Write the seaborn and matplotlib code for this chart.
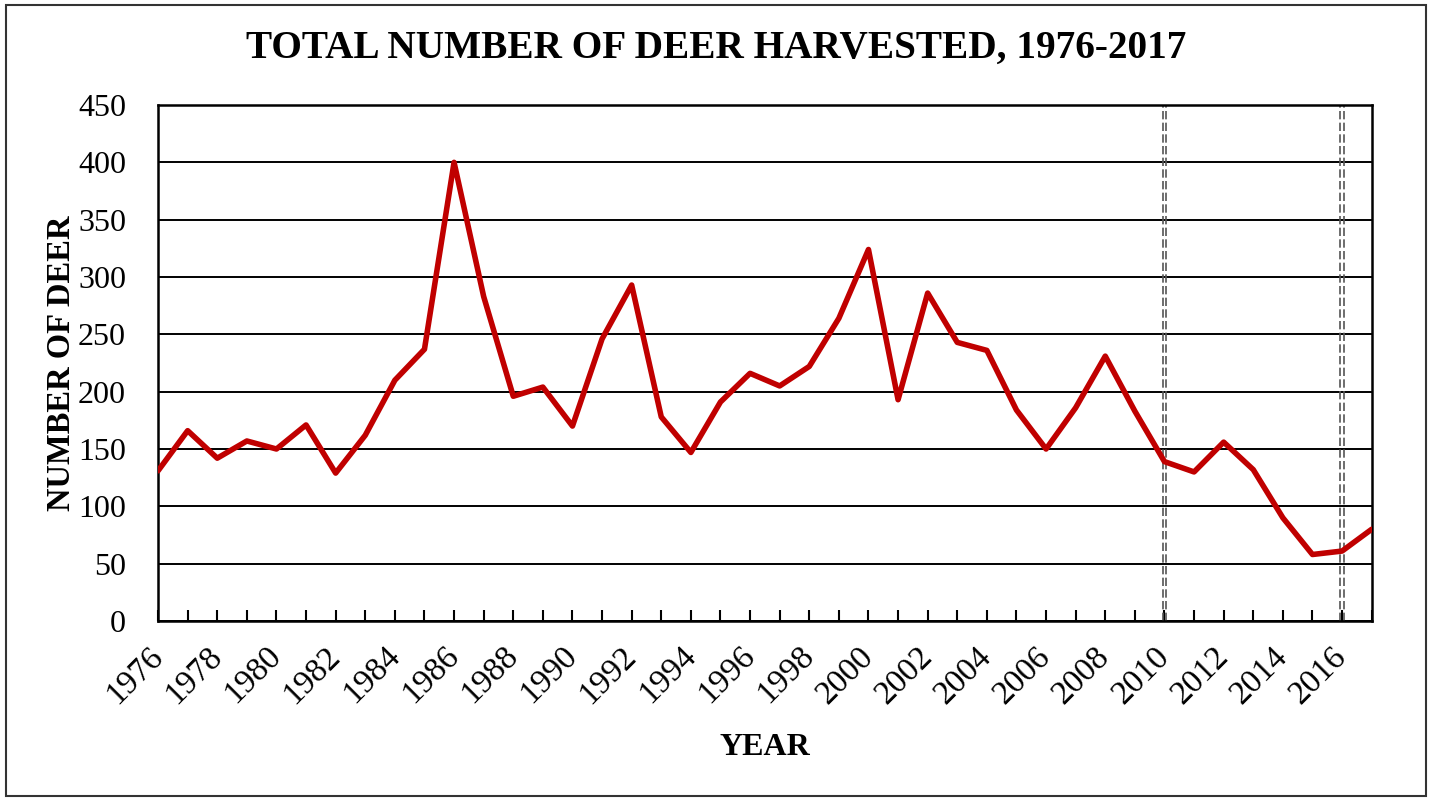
import matplotlib
matplotlib.use('Agg')
import matplotlib.pyplot as plt
import seaborn as sns
import pandas as pd
from matplotlib.patches import Rectangle

years = list(range(1976, 2018))
deer = [131, 166, 142, 157, 150, 171, 129, 162, 210, 237,
        400, 283, 196, 204, 170, 246, 293, 178, 147, 191,
        216, 205, 222, 264, 324, 193, 286, 243, 236, 184,
        150, 186, 231, 183, 139, 130, 156, 132, 90, 58,
        61, 80]
marker_years = [2010, 2016]
tick_years = list(range(1976, 2017, 2))

df = pd.DataFrame({'YEAR': years, 'DEER': deer})

sns.set_style('white')
plt.rcParams['font.family'] = ['Liberation Serif', 'DejaVu Serif']
plt.rcParams['text.color'] = 'black'
plt.rcParams['xtick.color'] = 'black'
plt.rcParams['ytick.color'] = 'black'
plt.rcParams['axes.labelcolor'] = 'black'

fig = plt.figure(figsize=(14.33, 7.98), dpi=100)
ax = fig.add_axes([0.1103, 0.2218, 0.8469, 0.6466])

# double dashed markers
for yr in marker_years:
    for off in (-0.06, 0.06):
        ax.axvline(yr + off, color='#555555', lw=1.2, ls=(0, (5, 2)), zorder=1)

sns.lineplot(data=df, x='YEAR', y='DEER', color='#C00000', lw=4, ax=ax, zorder=3)

ax.set_xlim(1976, 2017)
ax.set_ylim(0, 450)
ax.set_yticks(range(0, 451, 50))
ax.set_xticks(tick_years)
ax.set_xticks(years, minor=True)
ax.set_xticklabels([str(y) for y in tick_years], rotation=45, ha='right', va='center',
                   rotation_mode='anchor', fontsize=24)
ax.tick_params(axis='y', labelsize=23, direction='out', length=9, width=1.5, pad=14)
ax.tick_params(axis='x', which='both', direction='in', length=8, width=1.5, bottom=True, pad=22)
ax.grid(axis='y', color='black', lw=1.4)
ax.grid(axis='x', visible=False)
for s in ax.spines.values():
    s.set_color('black')
    s.set_linewidth(1.8)

fig.text(0.5, 1 - 48 / 798, 'TOTAL NUMBER OF DEER HARVESTED, 1976-2017', fontsize=28.3,
         fontweight='bold', ha='center', va='center')
ax.set_xlabel('YEAR', fontsize=23, fontweight='bold', labelpad=17)
ax.set_ylabel('NUMBER OF DEER', fontsize=23.5, fontweight='bold', labelpad=1)

fig.patches.append(Rectangle((0.004, 0.003), 0.991, 0.991, transform=fig.transFigure,
                             fill=False, edgecolor='#333333', lw=1.5))

fig.savefig('out.png', dpi=100)
